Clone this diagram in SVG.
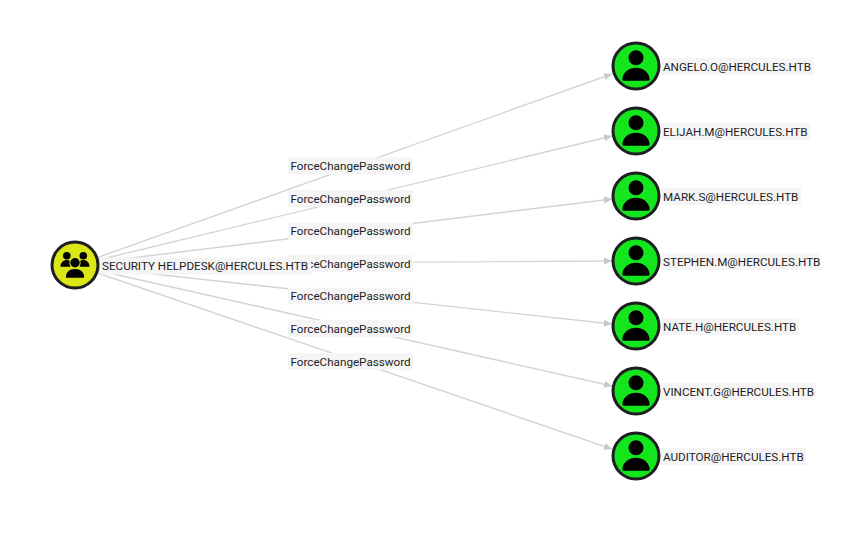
<svg xmlns="http://www.w3.org/2000/svg" width="851" height="537" viewBox="0 0 851 537">
<style>
text{font-family:Roboto,"Liberation Sans",sans-serif;font-size:11.67px;fill:#1d1d1d;dominant-baseline:central}
.bg{fill:#f5f5f5}
.e{stroke:#d4d4d4;stroke-width:1.4;fill:none;marker-end:url(#a)}
.u{fill:#14e61e;stroke:#1e1e23;stroke-width:3}
.g{fill:#dbe617;stroke:#1e1e23;stroke-width:3}
</style>
<defs>
<marker id="a" markerUnits="userSpaceOnUse" markerWidth="9" markerHeight="8" refX="8" refY="3.500" orient="auto"><path d="M0 0L8 3.500L0 7Z" fill="#c8c8c8"/></marker>
<g id="user"><circle r="23" class="u"/><circle cy="-8.300" r="7.500" fill="#000"/><path d="M-12.500 14.800Q-13.800 14.800-13.600 13C-13 6-7 1.700 0 1.700S13 6 13.600 13Q13.800 14.800 12.500 14.800Z" fill="#000"/></g>
</defs>
<rect width="851" height="537" fill="#fff"/>
<g id="connectors">
<path class="e" d="M97.500 257.500L612 74"/>
<path class="e" d="M98 260L612 136"/>
<path class="e" d="M98.500 262L612 199"/>
<path class="e" d="M99 264L612 261"/>
<path class="e" d="M98.500 268L612 324"/>
<path class="e" d="M98 270.500L612 386"/>
<path class="e" d="M97.500 273L612 449"/>
</g>
<g id="edge-labels">
<g><rect class="bg" x="288" y="157.500" width="125" height="17"/><text x="290.500" y="166">ForceChangePassword</text></g>
<g><rect class="bg" x="288" y="190" width="125" height="17"/><text x="290.500" y="199">ForceChangePassword</text></g>
<g><rect class="bg" x="288" y="222.500" width="125" height="17"/><text x="290.500" y="231">ForceChangePassword</text></g>
<g><rect class="bg" x="288" y="255" width="125" height="17"/><text x="290.500" y="264">ForceChangePassword</text></g>
<g><rect class="bg" x="288" y="287.500" width="125" height="17"/><text x="290.500" y="296">ForceChangePassword</text></g>
<g><rect class="bg" x="288" y="320" width="125" height="17"/><text x="290.500" y="329">ForceChangePassword</text></g>
<g><rect class="bg" x="288" y="353" width="125" height="17"/><text x="290.500" y="362">ForceChangePassword</text></g>
</g>
<g id="n-helpdesk">
<circle cx="75" cy="265" r="23" class="g"/>
<g fill="#000"><circle cx="66.800" cy="255.800" r="3.800"/><circle cx="83.300" cy="255.800" r="3.800"/><circle cx="75" cy="262.700" r="4.700"/><path d="M60.500 266.800c0-4.500 3-6.800 6.500-6.800 1 0 2 .2 2.800.7-.8 2.200-.3 4.500.7 6.100Z"/><path d="M89.500 266.800c0-4.500-3-6.800-6.500-6.800-1 0-2 .2-2.800.7.800 2.200.3 4.500-.7 6.100Z"/><path d="M66 277.800c-.5-5.500 3.500-8.800 9-8.800s9.500 3.300 9 8.800Z"/></g>
<rect class="bg" x="100" y="257.500" width="211" height="17"/><text x="102" y="266">SECURITY HELPDESK@HERCULES.HTB</text>
</g>
<g id="n-angelo"><use href="#user" x="636" y="66"/><rect class="bg" x="661" y="58" width="153" height="17"/><text x="663" y="67">ANGELO.O@HERCULES.HTB</text></g>
<g id="n-elijah"><use href="#user" x="636" y="131"/><rect class="bg" x="661" y="123" width="149" height="17"/><text x="663" y="132">ELIJAH.M@HERCULES.HTB</text></g>
<g id="n-mark"><use href="#user" x="636" y="196"/><rect class="bg" x="661" y="188" width="140" height="17"/><text x="663" y="197">MARK.S@HERCULES.HTB</text></g>
<g id="n-stephen"><use href="#user" x="636" y="261"/><rect class="bg" x="661" y="253" width="160" height="17"/><text x="663" y="262">STEPHEN.M@HERCULES.HTB</text></g>
<g id="n-nate"><use href="#user" x="636" y="326"/><rect class="bg" x="661" y="318" width="138" height="17"/><text x="663" y="327">NATE.H@HERCULES.HTB</text></g>
<g id="n-vincent"><use href="#user" x="636" y="391"/><rect class="bg" x="661" y="383" width="155" height="17"/><text x="663" y="392">VINCENT.G@HERCULES.HTB</text></g>
<g id="n-auditor"><use href="#user" x="636" y="456"/><rect class="bg" x="661" y="448" width="145" height="17"/><text x="663" y="457">AUDITOR@HERCULES.HTB</text></g>
</svg>
